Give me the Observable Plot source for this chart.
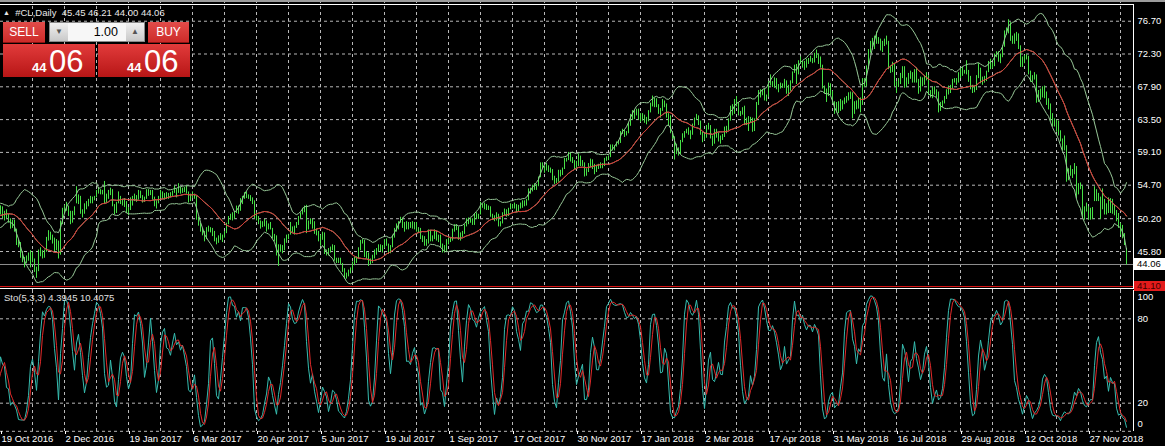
<!DOCTYPE html>
<html><head><meta charset="utf-8">
<script src="https://cdn.jsdelivr.net/npm/d3@7"></script>
<script src="https://cdn.jsdelivr.net/npm/@observablehq/plot@0.6"></script>
<style>
html,body{margin:0;padding:0;background:#000;width:1165px;height:446px;overflow:hidden;font-family:"Liberation Sans",Arial,sans-serif;}
#wrap{position:relative;width:1165px;height:446px;background:#000;}
#main,#sub{position:absolute;left:0;}
#main{top:0;} #sub{top:290px;}
#main svg,#sub svg{display:block;}
.ov{position:absolute;box-sizing:border-box;}
.line{position:absolute;}
#hdr{position:absolute;left:3px;top:7px;font-size:9.5px;color:#e8e8e8;white-space:pre;line-height:12px;}
#hdr .tri{font-size:7px;vertical-align:1px;}
#sto{position:absolute;left:4px;top:292px;font-size:9.5px;color:#e0e0e0;white-space:pre;line-height:12px;}
.hbtn{background:linear-gradient(#e24c4a,#cd2b29);color:#fff;font-size:12px;line-height:20px;text-align:center;border-bottom:1px solid #8e1212;}
#lot{background:#f7f7f7;border:1px solid #8a8a8a;}
#lot .b{position:absolute;top:0;width:18px;height:18px;background:linear-gradient(#f0f0f0,#c9c9c9);color:#555;font-size:8px;text-align:center;line-height:18px;}
#lot .val{position:absolute;right:26px;top:0;line-height:18px;font-size:12.5px;color:#000;}
.big{background:linear-gradient(#e23b3b,#b71616);}
.big .s{position:absolute;left:29px;top:17px;font-size:13px;font-weight:bold;line-height:13px;color:#fff;}
.big .L{position:absolute;left:46px;top:2px;font-size:31px;line-height:31px;color:#fff;}
.plab{position:absolute;left:1134px;width:31px;font-size:9.5px;line-height:12px;padding-left:3px;box-sizing:border-box;}
</style></head>
<body><div id="wrap">
<div id="main"></div><div id="sub"></div>
</div>
<script>
// ---------- DATA ----------
// 20 unseen lead-in bars (needed for the indicators at the left edge)
const leadClose=[48.8,49.4,48.9,49.6,49.2,49.9,50.3,50.6,50.9,50.7,51.2,51.5,50.9,51.8,51.4,51.0,51.2,51.1,50.7,51.0];
const leadHigh =[49.3,49.9,49.5,50.0,49.8,50.3,50.7,51.0,51.3,51.2,51.6,51.9,51.5,52.1,51.9,51.5,51.6,51.6,51.2,51.4];
const leadLow  =[48.3,48.7,48.4,48.9,48.8,49.2,49.8,50.1,50.4,50.2,50.6,51.0,50.5,51.0,51.0,50.6,50.8,50.6,50.3,50.5];

const close=[
51.60,50.43,50.85,50.52,49.96,49.18,49.72,48.70,46.86,46.67,
45.34,44.66,44.07,44.89,44.98,45.27,44.66,43.41,43.32,45.81,
45.57,45.42,45.69,47.49,48.03,47.96,47.50,46.06,47.08,45.23,
49.44,51.06,51.68,51.79,50.93,49.77,50.84,51.50,52.83,52.98,
51.04,50.90,51.90,52.12,52.23,52.49,52.95,53.02,53.90,54.06,
53.77,53.72,52.33,53.26,53.76,53.99,51.96,50.82,52.25,53.01,
52.37,52.40,52.48,51.08,51.37,52.42,52.75,53.18,52.75,53.78,
53.17,52.63,52.81,53.88,53.54,53.83,53.01,52.17,52.34,53.00,
53.86,52.93,53.20,53.11,53.36,53.40,53.60,54.06,53.59,54.45,
53.99,54.05,54.01,53.83,52.61,53.33,53.20,53.14,50.28,49.28,
48.49,48.40,47.72,48.86,48.75,48.78,48.22,47.34,47.04,47.70,
47.97,47.73,48.37,49.51,50.35,50.60,50.24,51.03,51.15,51.70,
52.24,53.08,53.40,53.11,53.18,52.65,52.41,50.44,50.27,49.62,
49.23,49.56,49.62,48.97,49.33,48.84,47.66,47.82,45.52,46.22,
46.43,45.88,47.33,47.83,47.84,48.85,48.66,49.07,49.35,50.33,
50.73,51.47,51.36,48.90,49.80,49.80,49.66,48.32,48.36,47.66,
47.40,48.19,45.72,45.64,45.83,46.08,46.46,44.73,44.46,44.74,
44.20,43.23,42.53,42.74,43.01,43.38,44.24,44.74,44.93,46.04,
47.07,47.10,45.13,45.52,44.23,44.40,45.04,45.49,46.08,46.54,
46.02,46.40,47.12,46.79,45.77,46.34,47.89,48.75,49.04,49.71,
50.17,49.16,49.59,49.03,49.58,49.39,49.17,49.56,48.59,48.82,
47.59,47.55,46.78,47.09,48.51,47.37,47.64,48.41,47.43,47.87,
46.57,46.44,45.96,47.23,47.29,47.40,48.66,49.16,49.09,47.48,
48.07,48.23,49.30,49.89,49.89,49.91,49.48,50.69,50.55,50.66,
52.22,51.88,52.14,51.56,51.67,50.58,50.42,49.98,50.79,49.29,
49.58,50.92,51.30,50.60,51.45,51.87,51.88,52.04,51.29,51.84,
51.90,52.47,52.18,52.64,53.90,54.15,54.38,54.30,54.54,55.64,
57.35,57.20,56.81,57.17,56.74,56.76,55.70,55.33,55.14,56.55,
56.09,56.83,58.02,58.00,58.95,58.11,57.99,57.30,57.40,58.36,
57.47,57.62,55.96,56.69,57.36,57.99,57.14,56.60,57.04,57.30,
57.16,57.46,58.09,58.36,58.47,59.97,59.64,59.84,60.42,60.37,
61.63,62.01,61.44,61.73,62.96,63.57,63.80,64.30,64.40,63.73,
63.97,63.95,63.37,63.57,64.47,65.61,65.51,66.14,65.56,64.50,
64.73,65.80,65.45,64.15,63.39,61.79,61.15,59.20,59.29,59.19,
60.60,61.34,61.68,62.00,61.90,61.68,62.77,63.55,63.91,63.01,
61.64,60.99,61.25,62.57,62.60,61.15,60.12,62.04,61.36,60.71,
60.96,61.19,62.34,62.06,63.40,65.17,64.30,65.88,65.55,64.25,
64.38,64.94,63.01,63.51,63.37,63.54,62.06,63.42,65.51,66.82,
67.07,67.39,66.22,66.52,68.47,68.29,68.38,68.64,67.70,68.05,
68.19,68.10,68.57,67.25,67.93,68.43,69.72,70.73,69.06,71.14,
71.36,70.70,70.96,71.31,71.49,71.49,71.28,72.24,72.13,71.84,
70.71,67.88,67.50,66.73,68.21,67.04,65.81,64.75,65.52,64.73,
65.95,65.74,66.10,66.36,66.64,66.89,65.06,65.85,65.07,66.22,
65.54,68.58,68.08,70.53,72.76,73.45,74.15,73.94,74.14,74.00,
72.94,73.80,73.85,74.11,70.38,70.33,71.01,68.06,68.08,68.76,
69.46,70.46,67.89,68.52,69.30,69.61,68.69,70.13,68.76,67.66,
68.96,68.49,69.01,69.17,66.94,66.81,67.63,67.20,67.04,65.01,
65.46,65.91,66.43,67.35,67.86,67.83,68.72,68.87,68.53,69.51,
70.25,69.80,69.90,69.87,68.72,67.77,67.75,67.54,69.25,70.37,
68.59,68.99,68.91,69.85,71.12,70.80,70.78,72.08,72.28,71.57,
72.12,73.25,75.30,75.23,76.41,74.33,74.34,74.29,74.96,73.17,
70.97,71.34,71.78,71.92,69.75,68.65,69.12,69.17,66.43,66.82,
67.33,67.59,67.04,66.18,65.31,63.69,63.14,63.10,62.21,61.67,
60.67,60.19,59.93,55.69,56.25,56.46,56.46,57.20,53.43,54.63,
54.60,50.42,51.63,51.56,50.29,51.45,50.93,52.95,53.25,52.89,
51.49,52.61,51.00,51.65,51.15,52.58,51.20,51.00,50.20,49.20,
48.80,47.70,46.80,44.06];

const high=[
51.93,51.80,51.20,51.40,50.80,50.20,50.00,50.00,48.80,47.30,
47.00,45.80,45.00,45.20,45.60,45.90,45.70,44.80,43.70,46.00,
46.30,45.90,46.00,47.70,48.60,48.40,48.00,47.60,47.40,47.20,
49.90,51.60,52.00,52.40,51.90,51.20,51.20,51.80,54.50,53.40,
53.20,51.40,52.20,52.50,52.80,53.20,53.10,53.20,54.00,54.40,
54.10,54.00,55.20,53.50,54.00,54.30,54.10,52.10,52.40,53.80,
53.20,52.80,52.90,52.50,51.70,53.00,53.20,53.50,53.30,54.00,
53.90,53.30,53.10,54.10,54.10,54.00,54.00,53.10,52.60,53.20,
54.00,53.80,53.60,53.70,53.60,53.70,53.90,54.60,54.20,54.90,
54.40,54.30,54.40,54.60,53.80,53.50,53.80,53.50,53.20,50.40,
49.60,48.90,48.50,49.00,49.20,49.00,48.90,48.50,47.60,47.90,
48.20,48.00,48.50,49.60,50.50,50.80,51.00,51.20,51.90,51.90,
52.90,53.20,53.70,53.80,53.40,53.30,53.00,52.60,51.00,50.50,
49.90,49.80,50.10,49.90,49.50,49.70,48.90,48.10,47.90,46.70,
46.70,46.60,47.50,48.00,48.10,49.70,49.10,49.20,49.70,50.50,
51.00,51.60,51.90,52.00,49.90,50.20,50.10,49.80,48.80,48.50,
48.00,48.40,48.30,46.00,46.20,46.40,46.70,46.60,44.90,44.90,
44.90,44.20,43.50,42.90,43.30,43.60,44.40,45.00,45.10,46.30,
47.30,47.40,47.30,45.80,45.60,44.80,45.30,46.00,46.20,46.70,
46.70,46.60,47.40,47.50,46.80,46.60,48.00,48.90,49.50,49.80,
50.40,50.30,49.70,49.80,49.70,49.70,49.80,49.70,49.70,49.00,
48.90,47.90,47.80,47.40,48.70,48.60,47.90,48.70,48.50,48.00,
48.00,46.80,46.60,47.40,47.60,47.70,48.80,49.40,49.40,49.10,
48.30,48.50,49.40,50.20,50.30,50.20,50.20,50.90,51.00,50.80,
52.40,52.20,52.30,52.10,51.90,51.80,50.80,50.60,51.00,50.80,
49.80,51.00,51.50,51.40,51.60,52.20,52.10,52.30,52.10,52.00,
52.30,52.60,52.60,52.80,54.20,54.30,54.70,54.90,54.80,55.80,
57.70,57.70,57.20,57.60,57.30,57.00,56.80,55.90,55.60,56.70,
56.70,57.00,58.30,58.30,59.10,59.00,58.40,58.00,57.90,58.90,
58.60,58.00,57.70,56.90,57.60,58.20,58.10,57.50,57.30,57.50,
57.70,57.60,58.30,58.50,58.60,60.10,60.10,60.00,60.50,60.70,
61.90,62.20,62.10,61.90,63.10,64.20,64.70,64.80,64.90,64.90,
64.30,64.30,64.10,63.80,64.70,65.70,66.66,66.40,66.30,65.50,
65.00,66.20,66.00,65.60,64.30,64.00,61.90,61.20,60.20,59.70,
60.70,61.60,61.90,62.20,62.40,62.00,62.90,63.70,64.20,64.00,
63.30,61.80,61.60,62.70,63.00,62.70,61.30,62.20,62.20,61.70,
61.30,61.50,62.50,62.60,63.60,65.30,65.50,66.20,66.60,65.80,
64.60,65.10,65.30,63.70,63.90,63.80,63.70,63.60,65.80,67.40,
67.50,67.50,67.60,66.80,68.60,69.50,68.60,69.10,69.00,68.20,
68.40,68.30,68.90,68.70,68.10,68.70,69.90,70.80,70.90,71.40,
71.90,71.30,71.30,71.60,71.70,72.00,71.70,72.40,72.83,72.30,
71.90,70.80,68.00,67.60,68.40,68.30,67.30,65.90,65.80,65.90,
66.20,66.00,66.40,66.60,67.10,67.20,67.10,65.90,66.00,66.40,
66.40,69.00,69.00,70.70,72.90,74.00,74.40,74.70,75.27,74.50,
74.30,74.00,74.30,74.70,74.00,70.70,71.20,71.00,68.60,69.00,
69.70,70.60,70.60,69.10,69.70,70.00,69.80,70.20,70.40,68.90,
69.20,69.10,69.40,69.80,69.40,67.40,67.80,67.90,67.50,67.20,
65.80,66.00,66.60,67.50,68.00,68.10,68.90,69.00,69.00,69.80,
70.40,70.50,70.10,71.40,70.10,69.30,68.10,68.00,69.40,71.00,
70.40,69.20,69.30,70.00,71.30,71.60,71.10,72.30,72.60,72.60,
72.30,73.40,75.40,75.80,76.90,76.50,74.70,75.00,75.20,75.00,
73.40,71.90,72.10,72.20,72.00,70.00,69.40,69.80,69.50,67.40,
67.60,67.90,68.00,67.20,66.30,65.60,64.30,63.60,63.40,63.30,
62.00,60.90,61.30,60.00,56.90,57.30,56.80,57.60,57.20,54.90,
55.00,54.60,51.80,52.30,51.80,51.60,51.70,54.50,54.10,53.60,
53.10,54.20,52.80,52.20,53.00,52.90,52.80,52.00,51.30,50.90,
49.60,49.30,48.20,46.21];

const low=[
50.70,50.20,49.90,50.20,49.60,48.80,48.90,48.40,46.60,46.30,
44.90,44.30,43.60,44.20,44.50,43.60,44.30,43.00,42.20,43.10,
45.10,44.80,44.90,45.70,47.20,47.30,46.80,45.80,45.90,44.80,
45.30,49.40,50.80,51.20,50.50,49.40,49.60,50.60,52.20,52.10,
50.80,50.30,50.80,51.40,51.80,52.20,52.20,52.60,53.00,53.50,
53.40,53.40,52.10,52.30,52.80,53.30,51.80,50.70,50.90,52.20,
52.10,51.90,51.70,50.90,50.60,51.30,51.90,52.50,52.40,52.70,
52.90,52.30,52.40,52.80,53.20,53.30,52.70,51.80,51.50,52.20,
52.90,52.80,52.70,52.80,52.80,53.00,53.20,53.60,53.00,53.60,
53.50,53.60,53.70,53.50,52.30,52.50,52.90,52.80,50.00,49.20,
48.40,47.90,47.10,47.40,48.40,48.30,47.80,47.10,46.70,46.90,
47.30,47.00,47.60,48.20,49.40,50.00,49.90,50.10,50.90,50.80,
51.20,52.10,52.80,52.90,52.80,52.50,52.10,50.20,49.90,49.40,
48.80,49.00,49.10,48.40,48.70,48.70,47.50,47.10,45.20,43.80,
45.70,45.50,45.90,46.90,47.40,48.00,48.30,48.00,48.90,49.30,
50.20,50.70,51.00,48.20,48.70,49.40,48.80,48.10,47.90,47.10,
46.50,47.30,45.40,45.20,45.20,45.60,45.90,44.50,44.20,44.20,
44.00,43.00,42.10,42.10,42.40,42.80,43.20,43.90,44.20,44.80,
45.90,46.80,45.00,44.80,43.80,44.00,44.20,44.80,45.30,45.70,
45.80,45.60,46.20,46.50,45.40,45.50,46.30,47.60,48.40,48.70,
49.60,48.90,48.40,48.70,48.70,48.90,48.80,48.70,48.40,48.20,
47.40,47.00,46.50,46.50,46.80,47.10,47.10,47.40,47.20,47.00,
46.30,45.60,45.60,45.80,46.70,47.00,47.20,48.40,48.60,47.30,
47.20,47.70,48.10,49.10,49.40,49.60,49.30,49.30,50.10,50.10,
50.70,51.60,51.40,51.30,51.30,50.40,50.00,49.80,49.90,49.10,
49.10,49.50,50.60,50.40,50.50,51.40,51.50,51.50,51.00,51.10,
51.50,51.60,51.80,51.90,52.60,53.50,53.80,54.00,54.00,54.50,
55.70,56.80,56.30,56.60,56.40,56.30,55.30,54.80,54.90,55.10,
55.80,56.00,56.80,57.80,58.00,57.80,57.60,56.80,56.80,57.20,
57.20,57.20,55.80,55.90,56.40,57.10,56.80,56.10,56.40,56.80,
56.90,56.90,57.20,57.90,58.00,58.40,59.30,59.30,59.80,60.10,
60.30,61.50,61.10,61.30,61.60,62.60,63.40,63.50,64.00,63.40,
63.10,63.30,63.00,62.80,63.20,64.40,65.20,65.10,65.10,64.20,
63.70,64.60,65.10,63.70,62.60,61.60,60.80,58.07,58.80,58.60,
58.80,60.40,61.00,61.60,61.40,60.80,61.40,62.60,63.40,62.70,
61.40,60.40,60.70,61.00,62.10,60.90,59.90,60.20,61.00,60.50,
60.20,60.70,61.10,61.60,62.00,63.30,64.00,64.20,65.20,64.00,
63.90,64.10,62.70,62.70,61.90,63.00,61.80,61.90,63.30,65.40,
66.40,66.70,66.00,65.90,66.50,68.00,67.80,67.70,67.50,67.10,
67.60,67.70,67.70,66.90,66.60,67.30,68.30,69.70,68.20,69.50,
70.90,70.40,70.10,70.40,70.90,71.20,71.00,71.10,71.70,70.90,
70.40,67.60,66.90,65.80,66.60,66.70,65.60,64.20,64.40,64.30,
64.60,64.80,65.50,65.70,66.00,66.20,63.60,64.20,64.80,64.90,
64.40,65.40,67.80,67.90,70.20,72.40,72.80,72.90,73.60,73.60,
72.70,72.50,73.30,73.50,70.20,69.70,69.80,67.90,67.00,67.80,
68.20,69.00,67.70,67.80,68.20,68.90,68.40,68.40,68.40,66.90,
67.20,67.90,68.10,68.70,66.70,66.40,66.30,66.80,66.40,64.40,
64.60,65.10,65.60,66.20,66.80,67.00,67.60,68.40,68.10,68.40,
69.00,69.30,69.60,69.50,68.50,67.50,67.00,67.10,67.40,69.00,
68.30,68.10,68.40,68.60,69.80,70.20,70.30,70.60,71.80,71.20,
71.00,71.80,73.20,74.80,75.00,74.00,73.60,73.60,74.00,72.90,
70.50,70.50,71.00,71.50,69.50,68.50,68.50,68.80,65.70,65.80,
66.10,66.40,66.30,65.40,64.80,63.30,62.50,62.50,61.80,61.30,
60.50,59.30,59.30,55.10,55.30,55.90,55.60,56.10,52.90,53.40,
54.10,50.20,50.00,51.10,50.00,50.00,50.10,52.50,52.50,52.50,
50.10,51.40,50.70,50.70,50.90,50.90,50.80,50.60,49.80,48.90,
48.00,47.50,46.60,44.00];

const lastOpen = 45.45;
const symbol = "#CL,Daily";
const priceTicks = [76.70,72.30,67.90,63.50,59.10,54.70,50.20,45.80];
const bidPrice = 44.06;
const alertPrice = 41.10;
const stochLevels = [80, 20];
const stochEdgeTicks = [100, 0];
const stochHeader = ["Sto(5,3,3)", "4.3945", "10.4075"];
const dateLabels = ["19 Oct 2016","2 Dec 2016","19 Jan 2017","6 Mar 2017","20 Apr 2017","5 Jun 2017","19 Jul 2017","1 Sep 2017","17 Oct 2017","30 Nov 2017","17 Jan 2018","2 Mar 2018","17 Apr 2018","31 May 2018","16 Jul 2018","29 Aug 2018","12 Oct 2018","27 Nov 2018"];
const lotSize = "1.00";
const quoteBig = ["44","06"];

// ---------- indicators (Bollinger 20/2 with SMA20, Stochastic 5,3,3) ----------
const N0 = leadClose.length;
const C = leadClose.concat(close), H = leadHigh.concat(high), L = leadLow.concat(low);
const bars = close.map((c,i)=>({i, close:c, high:high[i], low:low[i]}));
const bands = [];
for (let j = 19; j < C.length; j++) {
  const w = C.slice(j-19, j+1), m = d3.mean(w);
  const sd = Math.sqrt(d3.mean(w, v => (v-m)*(v-m)));
  bands.push({i: j-N0, mid: m, upper: m+2*sd, lower: m-2*sd});
}
const num = [], den = [];
for (let j = 0; j < C.length; j++) {
  if (j < 4) { num.push(null); den.push(null); continue; }
  const hh = d3.max(H.slice(j-4, j+1)), ll = d3.min(L.slice(j-4, j+1));
  num.push(C[j]-ll); den.push(hh-ll);
}
const K = C.map((_, j) => j < 6 ? null : 100*(num[j]+num[j-1]+num[j-2])/(den[j]+den[j-1]+den[j-2]));
const stoch = [];
for (let j = 8; j < C.length; j++) stoch.push({i: j-N0, k: K[j], d: (K[j]+K[j-1]+K[j-2])/3});

// ---------- layout ----------
const W = 1165, RIGHT = 1133;
const xDomain = [0, (RIGHT)/2];
const gridBars = d3.range(16, xDomain[1], 16);
const labelBars = dateLabels.map((_, k) => 32*k);
const labelMap = new Map(labelBars.map((b,k)=>[b, dateLabels[k]]));
const gridStyle = {stroke:"#b8b8b8", strokeDasharray:"3,3", strokeWidth:1};
const FONT = '"Liberation Sans", Arial, sans-serif';
const bandColor = "#98c898";

const main = Plot.plot({
  width: W, height: 290, marginLeft: 0, marginRight: W-RIGHT, marginTop: 0, marginBottom: 0,
  style: {background:"#000", color:"#fff", fontFamily: FONT, fontSize:"9.5px"},
  x: {domain: xDomain, axis: null, label: null},
  y: {domain: [40.57, 79.48], axis: null, label: null},
  marks: [
    Plot.ruleY(priceTicks, gridStyle),
    Plot.ruleX(gridBars, gridStyle),
    Plot.ruleY([bidPrice], {stroke:"#8e8e8e"}),
    Plot.ruleY([alertPrice], {stroke:"#e01515"}),
    Plot.ruleX(bars, {x:"i", y1:"low", y2:"high", stroke:"#46e046", strokeWidth:1}),
    Plot.line(bands, {x:"i", y:"upper", stroke:bandColor, strokeWidth:1, clip:true}),
    Plot.line(bands, {x:"i", y:"lower", stroke:bandColor, strokeWidth:1, clip:true}),
    Plot.line(bands, {x:"i", y:"mid", stroke:bandColor, strokeWidth:1, clip:true}),
    Plot.line(bands, {x:"i", y:"mid", stroke:"#e02a2a", strokeWidth:1, clip:true}),
    Plot.axisY(priceTicks, {anchor:"right", tickSize:0, tickPadding:4, tickFormat: d3.format(".2f"), label:null})
  ]
});
document.getElementById("main").appendChild(main);

const sub = Plot.plot({
  width: W, height: 156, marginLeft: 0, marginRight: W-RIGHT, marginTop: 0, marginBottom: 15,
  style: {background:"#000", color:"#fff", fontFamily: FONT, fontSize:"9.5px"},
  x: {domain: xDomain, axis: null, label: null},
  y: {domain: [0, 100], range: [140.8, 0.2], axis: null, label: null},
  marks: [
    Plot.ruleX(gridBars, gridStyle),
    Plot.ruleY(stochLevels, gridStyle),
    Plot.ruleY([0], gridStyle),
    Plot.line(stoch, {x:"i", y:"k", stroke:"#36bdb0", strokeWidth:1, clip:true}),
    Plot.line(stoch, {x:"i", y:"d", stroke:"#e42a2a", strokeWidth:1, clip:true}),
    Plot.axisY(stochLevels, {anchor:"right", tickSize:0, tickPadding:4, label:null}),
    Plot.text([stochEdgeTicks[0]], {frameAnchor:"right", y: d=>d, dx:4, dy:6, textAnchor:"start", text: d=>String(d), fill:"#fff"}),
    Plot.text([stochEdgeTicks[1]], {frameAnchor:"right", y: d=>d, dx:4, dy:-7, textAnchor:"start", text: d=>String(d), fill:"#fff"}),
    Plot.axisX(labelBars, {anchor:"bottom", tickSize:3, tickPadding:1, tickFormat: d => labelMap.get(d), textAnchor:"start", dx:1, label:null, stroke:"#fff"})
  ]
});
document.getElementById("sub").appendChild(sub);

// ---------- overlays (frame, labels, trading panel) ----------
const wrap = document.getElementById("wrap");
function add(html){ wrap.insertAdjacentHTML("beforeend", html); }
const yMain = main.scale("y");
const bidY = yMain.apply(bidPrice), alY = yMain.apply(alertPrice);
// frame
add(`<div class="line" style="left:0;top:0;width:${W}px;height:2px;background:#9c9c9c"></div>`);
add(`<div class="line" style="left:0;top:4px;width:${RIGHT+1}px;height:1px;background:#fff"></div>`);
add(`<div class="line" style="left:${RIGHT}px;top:4px;width:1px;height:285px;background:#fff"></div>`);
add(`<div class="line" style="left:0;top:288px;width:${RIGHT+1}px;height:1px;background:#fff"></div>`);
add(`<div class="line" style="left:${RIGHT}px;top:290px;width:1px;height:141px;background:#fff"></div>`);
// price labels
add(`<div class="plab" style="top:${bidY-6}px;background:#fff;color:#000">${bidPrice.toFixed(2)}</div>`);
add(`<div class="plab" style="top:${alY-5}px;height:10px;line-height:10px;background:#e31b1b;color:#3a0000">${alertPrice.toFixed(2)}</div>`);
// header texts
add(`<div id="hdr"><span class="tri">▲</span>  ${symbol}  ${[lastOpen, high[high.length-1], low[low.length-1], close[close.length-1]].map(v=>v.toFixed(2)).join(" ")}</div>`);
add(`<div id="sto">${stochHeader.join(" ")}</div>`);
// one-click trading panel
add(`<div class="ov hbtn" style="left:3px;top:22px;width:42px;height:21px">SELL</div>`);
add(`<div class="ov" id="lot" style="left:49px;top:22px;width:96px;height:20px"><div class="b" style="left:0">▼</div><div class="val">${lotSize}</div><div class="b" style="right:0">▲</div></div>`);
add(`<div class="ov hbtn" style="left:148px;top:22px;width:41px;height:21px">BUY</div>`);
add(`<div class="ov big" style="left:3px;top:44px;width:92px;height:33px"><span class="s">${quoteBig[0]}</span><span class="L">${quoteBig[1]}</span></div>`);
add(`<div class="ov big" style="left:98px;top:44px;width:92px;height:33px"><span class="s">${quoteBig[0]}</span><span class="L">${quoteBig[1]}</span></div>`);
</script>
</body></html>
